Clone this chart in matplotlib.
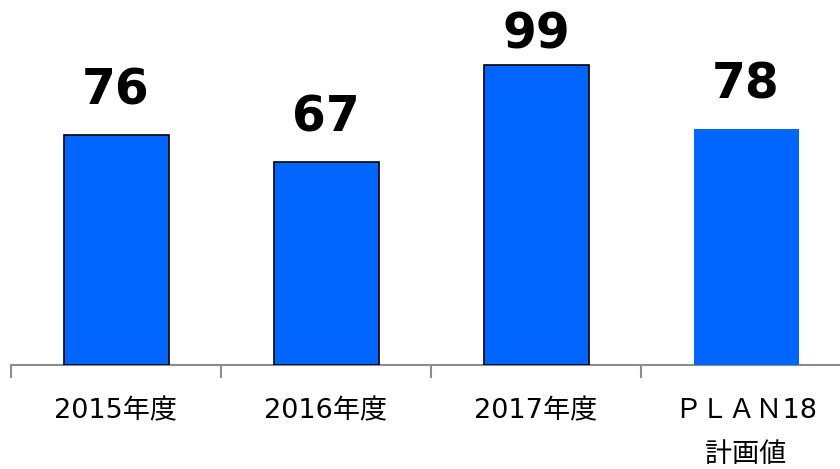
import matplotlib
matplotlib.use("Agg")
import matplotlib.pyplot as plt
from matplotlib.ticker import FixedLocator

plt.rcParams["font.family"] = ["DejaVu Sans", "Noto Sans CJK JP"]

categories = ["2015年度", "2016年度", "2017年度", "ＰＬＡＮ18\n計画値"]
values = [76, 67, 99, 78]

BLUE = "#0066FF"
W, H, DPI = 840, 469, 100
PX_PER_UNIT = 3.03
YMAX = 120

fig = plt.figure(figsize=(W / DPI, H / DPI), dpi=DPI)
base_px = 365
ax = fig.add_axes([11 / W, (H - base_px) / H, 840 / W, YMAX * PX_PER_UNIT / H])

x = list(range(len(values)))
edges = ["black", "black", "black", "none"]
bars = ax.bar(x, values, width=0.5, color=BLUE, edgecolor=edges, linewidth=1.2, zorder=3)

# gap between bar top and label (px); tallest one squeezed in the original
label_gap = [30, 30, 17, 30]
for b, v, g in zip(bars, values, label_gap):
    ax.annotate(str(v), (b.get_x() + b.get_width() / 2, v), xytext=(0, g * 72 / DPI),
                textcoords="offset points", ha="center", va="baseline",
                fontsize=35, fontweight="bold", color="black")

ax.set_xlim(-0.5, 3.5)
ax.set_ylim(0, YMAX)
ax.set_yticks([])
for s in ("top", "right", "left"):
    ax.spines[s].set_visible(False)
ax.spines["bottom"].set_color("#8c8c8c")
ax.spines["bottom"].set_linewidth(1.5)

ax.set_xticks(x)
ax.set_xticklabels(categories, fontsize=19.5, linespacing=1.9, va="top")
ax.tick_params(axis="x", which="major", length=0, pad=24)
ax.xaxis.set_minor_locator(FixedLocator([-0.5, 0.5, 1.5, 2.5, 3.5]))
ax.tick_params(axis="x", which="minor", length=9, width=1.5, color="#8c8c8c")

fig.savefig("out.png", dpi=DPI)
